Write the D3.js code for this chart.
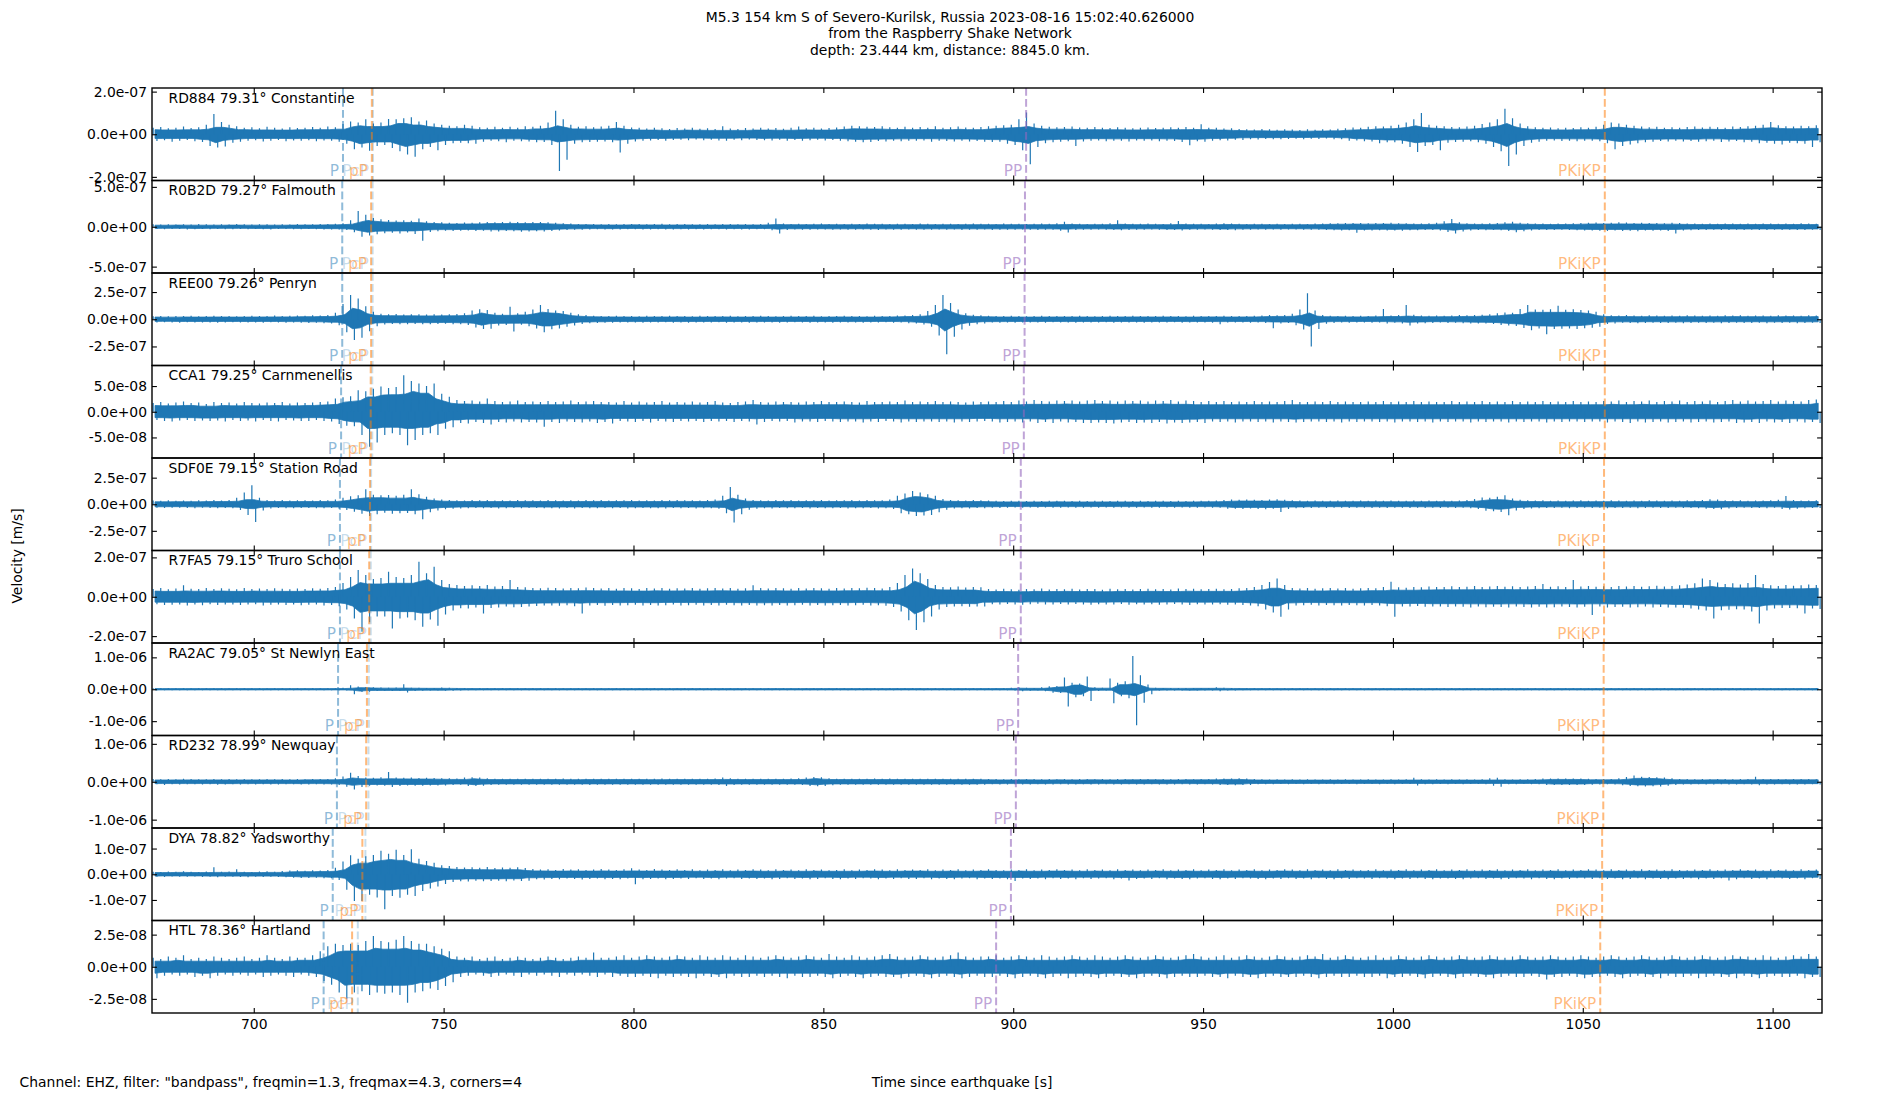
<!DOCTYPE html>
<html>
<head>
<meta charset="utf-8">
<script src="https://cdn.jsdelivr.net/npm/d3@7"></script>
<style>
  body { margin: 0; background: #fff; }
  text { font-family: "DejaVu Sans", sans-serif; }
</style>
</head>
<body>
<svg id="fig" width="1900" height="1100"></svg>
<script>
// stations, top to bottom
const stationCodes = ["RD884", "R0B2D", "REE00", "CCA1", "SDF0E", "R7FA5", "RA2AC", "RD232", "DYA", "HTL"];
const stationDist = ["79.31", "79.27", "79.26", "79.25", "79.15", "79.15", "79.05", "78.99", "78.82", "78.36"];
const stationPlace = ["Constantine", "Falmouth", "Penryn", "Carnmenellis", "Station Road", "Truro School",
    "St Newlyn East", "Newquay", "Yadsworthy", "Hartland"];

// axis limits and tick steps, nm/s
const yLimits = [217, 580, 425, 90, 435, 235, 1450, 1220, 180, 36];
const yTickSteps = [200, 500, 250, 50, 250, 200, 1000, 1000, 100, 25];
const xTicks = [700, 750, 800, 850, 900, 950, 1000, 1050, 1100];

// phase arrivals, seconds after origin
const tP = [723.5, 723.3, 723.3, 723.0, 722.7, 722.7, 722.2, 721.9, 720.8, 718.4];
const tPcP = [731.4, 731.3, 731.3, 731.2, 730.9, 730.8, 730.3, 730.2, 729.4, 727.4];
const tpP = [731.1, 730.9, 730.9, 730.8, 730.6, 730.4, 729.8, 729.6, 728.6, 725.9];
const tPP = [903.4, 903.1, 903.0, 902.8, 902.0, 902.0, 901.3, 900.7, 899.4, 895.5];
const tPKiKP = [1055.8, 1055.8, 1055.8, 1055.8, 1055.6, 1055.6, 1055.5, 1055.4, 1055.1, 1054.6];

// trace envelopes: max / min velocity (nm/s) in 2 s windows centred on windowTimes
const windowTimes = d3.range(674, 1114, 2);

const rd884Hi = [30,34,28,31,36,29,33,45,95,58, 45,38,30,33,28,35,30,27,33,29, 30,34,30,36,33,48,60,55,70,50,
    55,72,70,75,80,60,65,50,45,40, 38,45,40,33,30,35,31,35,30,38, 35,40,55,110,70,45,35,38,33,36,
    40,58,40,32,30,27,30,28,25,29, 27,30,26,28,25,38,27,25,29,27, 30,27,29,26,30,36,28,30,27,29,
    32,36,40,38,35,34,37,33,31,35, 30,34,31,38,30,33,36,32,30,34, 38,40,42,45,70,102,50,40,35,33,
    34,36,32,30,34,31,29,33,30,28, 30,32,29,31,33,30,34,31,47,30, 30,27,28,25,24,22,25,23,21,24,
    22,20,23,21,24,22,26,28,32,30, 35,38,36,40,45,55,70,100,45,40, 38,34,33,36,40,48,55,70,120,75,
    50,38,33,30,32,28,31,29,33,30, 35,45,55,50,45,40,36,33,35,31, 33,30,34,36,32,35,33,31,36,34,
    38,40,45,58,42,38,36,40,38,42];
const rd884Lo = [-32,-28,-35,-30,-27,-33,-36,-55,-62,-58, -40,-35,-31,-28,-34,-30,-27,-33,-29,-31,
    -28,-33,-29,-31,-35,-45,-70,-62,-78,-55, -50,-65,-80,-95,-105,-70,-60,-75,-50,-42,
    -40,-42,-45,-35,-31,-33,-37,-30,-33,-34, -38,-36,-50,-172,-120,-45,-38,-36,-35,-34,
    -38,-86,-45,-34,-31,-29,-27,-30,-27,-26, -28,-25,-28,-26,-29,-30,-26,-28,-25,-27,
    -28,-29,-26,-30,-27,-31,-28,-26,-29,-27, -30,-33,-35,-37,-36,-32,-34,-31,-33,-30,
    -31,-29,-35,-30,-32,-34,-31,-34,-32,-35, -36,-35,-45,-50,-75,-141,-60,-42,-38,-35,
    -33,-55,-34,-31,-29,-33,-30,-31,-34,-29, -31,-29,-33,-30,-32,-36,-52,-33,-35,-31,
    -28,-29,-26,-27,-23,-25,-22,-24,-23,-22, -21,-23,-21,-22,-20,-24,-23,-30,-29,-33,
    -34,-42,-38,-37,-45,-60,-83,-55,-50,-75, -40,-36,-35,-33,-38,-45,-60,-80,-149,-95,
    -55,-40,-35,-31,-29,-32,-30,-33,-30,-31, -33,-42,-70,-55,-48,-42,-38,-35,-32,-34,
    -31,-34,-32,-35,-33,-30,-36,-34,-32,-37, -35,-42,-40,-45,-48,-40,-42,-45,-60,-38];

const r0b2dHi = [30,27,32,29,31,28,33,30,27,31, 29,33,30,28,32,30,27,31,29,33, 30,32,35,33,38,45,80,196,150,110,
    95,84,78,80,75,105,70,60,55,50, 48,52,50,55,60,55,58,62,60,55, 58,60,55,50,45,40,35,33,36,32,
    34,31,35,33,36,32,34,38,31,33, 35,32,30,34,31,33,36,32,34,31, 33,50,105,40,36,38,35,37,40,36,
    38,35,39,36,40,37,38,35,39,37, 36,40,38,35,37,39,36,38,40,37, 38,36,40,37,39,36,38,40,37,45,
    63,40,38,36,39,37,45,80,42,38, 37,40,38,36,45,71,40,37,39,36, 42,45,40,38,36,39,37,36,38,35,
    37,38,36,40,42,45,44,47,48,46, 45,48,46,50,44,45,42,40,45,50, 70,96,55,45,42,40,45,48,55,63,
    50,45,42,40,38,42,40,45,48,50, 52,48,50,55,52,48,50,46,48,45, 50,46,42,40,38,41,39,42,40,38,
    41,39,42,40,38,41,39,43,40,38];
const r0b2dLo = [-28,-31,-29,-27,-33,-30,-29,-32,-28,-30, -31,-28,-32,-29,-30,-33,-29,-28,-31,-30,
    -29,-31,-33,-34,-36,-42,-70,-125,-110,-95, -80,-75,-84,-72,-90,-175,-65,-55,-50,-52,
    -50,-47,-53,-50,-58,-60,-52,-55,-62,-58, -55,-58,-52,-48,-42,-38,-37,-35,-32,-34,
    -33,-35,-32,-31,-34,-36,-31,-33,-35,-32, -34,-31,-33,-30,-32,-35,-31,-34,-33,-30,
    -32,-45,-84,-42,-35,-37,-39,-34,-36,-38, -36,-39,-37,-35,-38,-40,-36,-38,-37,-35,
    -38,-37,-39,-36,-38,-36,-40,-37,-38,-36, -40,-37,-38,-39,-36,-38,-40,-37,-39,-50,
    -71,-42,-37,-39,-36,-38,-40,-45,-40,-37, -39,-36,-38,-40,-42,-48,-38,-39,-36,-38,
    -40,-42,-44,-37,-39,-36,-38,-35,-37,-36, -35,-38,-37,-39,-41,-43,-46,-45,-75,-48,
    -47,-44,-48,-46,-50,-43,-44,-42,-40,-48, -65,-84,-60,-46,-40,-43,-42,-45,-52,-70,
    -55,-46,-40,-42,-41,-39,-42,-44,-46,-48, -50,-52,-47,-53,-50,-55,-48,-50,-47,-52,
    -84,-48,-44,-41,-40,-38,-42,-40,-39,-41, -39,-42,-40,-38,-41,-39,-40,-42,-38,-40];

const ree00Hi = [28,31,27,30,29,33,28,30,32,29, 31,28,30,33,29,31,34,30,32,35, 33,36,35,40,60,140,223,190,120,70,
    50,46,48,44,45,47,43,46,44,45, 48,55,80,92,85,60,50,116,55,70, 90,132,95,80,75,60,45,38,33,31,
    30,33,29,31,28,32,30,29,33,31, 30,28,32,29,31,30,33,28,31,29, 32,30,28,31,33,29,30,32,28,31,
    30,33,29,31,28,32,30,31,34,35, 38,45,75,130,223,150,90,55,42,36, 33,31,29,32,30,28,31,33,29,30,
    31,29,32,30,28,31,33,29,30,32, 30,31,29,32,30,31,28,33,30,31, 30,32,29,31,30,33,35,40,36,38,
    50,90,239,80,40,33,31,32,30,33, 31,34,95,35,40,132,42,35,32,34, 33,35,38,36,40,42,45,55,61,60,
    95,132,90,88,92,125,88,92,85,80, 70,45,36,34,38,35,33,36,34,32, 35,33,36,34,32,35,33,37,34,36,
    33,35,34,32,36,34,35,33,36,34];
const ree00Lo = [-30,-27,-29,-32,-28,-30,-31,-29,-33,-30, -28,-31,-29,-30,-32,-28,-31,-33,-30,-32,
    -34,-33,-37,-38,-55,-120,-190,-170,-110,-65, -48,-44,-46,-47,-43,-45,-46,-44,-42,-47,
    -45,-52,-75,-90,-88,-58,-52,-113,-50,-65, -85,-119,-92,-85,-70,-58,-44,-36,-35,-32,
    -32,-29,-31,-30,-33,-29,-31,-28,-32,-30, -32,-29,-30,-31,-28,-33,-30,-29,-32,-30,
    -31,-29,-32,-30,-28,-31,-33,-29,-30,-32, -29,-31,-30,-33,-29,-31,-28,-32,-30,-36,
    -40,-48,-70,-150,-321,-160,-95,-60,-45,-38, -31,-32,-30,-33,-29,-31,-30,-32,-28,-31,
    -30,-32,-29,-31,-30,-28,-32,-30,-29,-31, -32,-29,-31,-30,-28,-33,-30,-31,-29,-32,
    -46,-30,-31,-29,-32,-30,-34,-83,-38,-35, -55,-95,-251,-90,-42,-34,-30,-33,-31,-29,
    -32,-30,-40,-33,-38,-58,-40,-36,-34,-31, -35,-33,-36,-39,-38,-40,-44,-52,-58,-63,
    -80,-100,-85,-138,-90,-88,-85,-90,-82,-78, -68,-44,-38,-33,-35,-37,-34,-32,-35,-34,
    -33,-36,-34,-32,-35,-33,-36,-34,-32,-35, -34,-32,-36,-33,-35,-32,-37,-34,-33,-35];

const cca1Hi = [17,19,16,18,20,17,18,15,19,17, 18,16,19,17,16,18,17,19,16,18, 17,18,19,20,26,28,30,42,40,45,
    49,46,48,71,60,55,50,55,35,29, 23,21,22,20,26,21,19,20,22,19, 20,19,21,19,20,22,19,20,21,19,
    19,18,21,18,20,18,19,21,18,19, 18,20,18,19,21,18,17,19,20,23, 19,18,20,19,19,18,20,19,21,19,
    19,20,19,18,21,19,19,20,19,22, 19,20,19,21,19,20,19,18,20,19, 20,19,21,19,22,20,23,21,20,22,
    21,22,20,22,23,21,22,20,22,21, 22,20,22,21,23,20,22,21,19,21, 19,21,19,20,19,21,19,20,19,21,
    23,19,19,20,19,21,19,20,19,19, 20,19,21,19,20,19,21,19,20,19, 19,21,19,20,19,21,19,20,19,21,
    19,20,19,21,19,20,19,21,19,20, 19,21,20,22,19,21,20,22,19,21, 20,22,19,21,20,22,19,21,23,20,
    22,20,21,23,20,22,21,20,23,24];
const cca1Lo = [-16,-18,-19,-17,-16,-18,-17,-18,-17,-19, -16,-18,-17,-19,-16,-18,-19,-16,-17,-18,
    -18,-16,-18,-19,-24,-27,-28,-45,-68,-60, -45,-42,-45,-65,-55,-45,-42,-45,-33,-30,
    -22,-23,-20,-22,-25,-20,-21,-19,-21,-20, -21,-29,-20,-22,-19,-20,-21,-19,-22,-20,
    -23,-18,-19,-20,-18,-21,-18,-19,-20,-18, -19,-18,-20,-18,-19,-18,-20,-18,-19,-25,
    -20,-18,-19,-18,-21,-19,-19,-20,-18,-19, -20,-19,-19,-21,-19,-20,-18,-19,-21,-19,
    -20,-19,-19,-20,-19,-21,-19,-20,-19,-18, -19,-21,-20,-19,-21,-19,-22,-20,-22,-19,
    -21,-20,-22,-22,-21,-22,-23,-21,-20,-22, -21,-22,-20,-23,-21,-22,-21,-20,-22,-19,
    -20,-19,-21,-19,-19,-20,-19,-21,-19,-20, -21,-20,-19,-19,-20,-19,-21,-19,-20,-19,
    -19,-20,-19,-21,-19,-19,-20,-19,-21,-19, -20,-19,-19,-21,-19,-20,-19,-19,-21,-19,
    -20,-19,-19,-21,-19,-20,-19,-19,-20,-19, -19,-21,-19,-20,-22,-19,-21,-20,-19,-21,
    -20,-19,-21,-20,-19,-21,-20,-19,-22,-21, -20,-22,-19,-21,-20,-22,-19,-21,-20,-22];

const sdf0eHi = [35,32,37,34,36,33,38,35,40,36, 40,60,110,179,60,40,36,39,35,37, 38,36,40,37,45,60,75,85,141,90,
    85,88,80,90,141,95,70,55,45,40, 38,36,39,37,40,35,38,36,39,37, 38,36,40,37,35,38,36,39,37,40,
    36,38,37,39,35,38,36,40,37,39, 37,38,36,40,45,80,163,90,55,40, 38,36,39,37,40,36,38,37,39,36,
    38,37,39,36,40,37,38,45,80,100, 125,110,95,80,50,40,38,36,39,37, 35,33,31,34,32,30,33,31,34,32,
    33,31,34,30,33,32,31,34,32,30, 33,31,34,32,30,33,31,34,32,33, 35,40,44,42,45,43,41,44,46,42,
    38,35,33,36,34,32,35,33,34,36, 34,35,33,36,34,32,35,33,36,34, 35,33,36,40,50,63,60,70,85,55,
    42,38,35,37,34,36,33,35,37,34, 36,34,37,35,33,36,34,37,35,33, 36,34,37,35,40,47,44,38,35,37,
    34,36,35,37,42,78,40,36,35,37];
const sdf0eLo = [-33,-36,-34,-32,-35,-37,-34,-36,-38,-35, -38,-55,-100,-166,-58,-40,-35,-37,-38,-36,
    -35,-37,-38,-36,-42,-55,-70,-90,-110,-95, -80,-90,-85,-82,-95,-141,-75,-58,-48,-42,
    -40,-37,-35,-38,-36,-39,-37,-35,-38,-36, -36,-38,-37,-39,-36,-40,-35,-37,-38,-36,
    -38,-35,-39,-37,-36,-38,-37,-39,-35,-38, -36,-39,-37,-38,-42,-85,-172,-95,-52,-42,
    -37,-39,-36,-38,-37,-35,-39,-36,-38,-37, -36,-39,-37,-38,-36,-39,-37,-44,-85,-95,
    -110,-105,-100,-75,-52,-41,-37,-39,-36,-38, -33,-35,-32,-30,-33,-31,-34,-30,-32,-33,
    -31,-34,-32,-31,-33,-30,-32,-31,-34,-32, -31,-33,-32,-30,-33,-31,-32,-34,-31,-33,
    -34,-42,-43,-45,-41,-44,-46,-42,-72,-44, -37,-36,-35,-33,-35,-34,-32,-35,-33,-34,
    -36,-33,-35,-34,-32,-35,-33,-36,-34,-35, -33,-36,-34,-38,-45,-60,-65,-72,-103,-58,
    -44,-40,-37,-35,-36,-34,-37,-35,-33,-36, -34,-37,-35,-36,-34,-37,-35,-33,-36,-35,
    -34,-36,-35,-37,-42,-45,-47,-40,-36,-34, -36,-35,-37,-34,-45,-50,-42,-38,-36,-35];

const r7fa5Hi = [40,45,38,42,59,41,39,44,40,43, 41,38,44,40,42,39,43,41,38,42, 40,43,41,45,50,70,100,136,110,90,
    95,127,100,95,110,178,120,152,85,65, 60,55,58,55,60,52,55,85,50,48, 45,43,46,44,42,45,43,47,44,42,
    44,41,45,43,40,44,42,45,41,43, 42,44,41,43,45,42,44,41,43,59, 44,42,45,43,41,44,42,45,43,41,
    44,42,45,43,46,44,42,50,70,110, 144,120,90,60,50,48,52,47,50,48, 40,37,41,38,36,40,38,42,37,39,
    38,41,37,40,39,36,41,38,40,37, 39,41,38,40,37,42,39,41,38,40, 41,38,40,43,45,50,60,75,93,60,
    45,42,44,41,43,45,42,44,41,43, 45,43,50,76,48,46,50,48,52,49, 50,53,49,51,54,50,52,55,51,53,
    50,52,54,65,51,53,50,85,52,55, 51,53,50,54,52,55,51,53,56,52, 55,58,62,68,93,85,72,65,68,62,
    70,110,65,58,55,60,56,58,62,60];
const r7fa5Lo = [-38,-42,-41,-39,-44,-40,-43,-38,-42,-40, -39,-42,-40,-38,-44,-41,-39,-42,-40,-43,
    -41,-39,-44,-42,-48,-65,-110,-178,-130,-100, -100,-161,-110,-105,-120,-152,-115,-147,-90,-70,
    -58,-60,-55,-85,-57,-55,-50,-53,-52,-50, -47,-45,-44,-46,-43,-48,-85,-45,-42,-46,
    -42,-45,-43,-41,-44,-42,-45,-43,-40,-44, -43,-41,-44,-42,-45,-41,-43,-44,-42,-45,
    -43,-45,-42,-44,-43,-41,-44,-42,-45,-43, -42,-44,-43,-41,-45,-43,-46,-52,-75,-120,
    -169,-130,-100,-65,-52,-50,-48,-51,-49,-50, -38,-40,-37,-39,-41,-38,-36,-40,-39,-37,
    -40,-37,-39,-41,-38,-40,-39,-37,-41,-38, -40,-38,-41,-39,-37,-40,-42,-38,-40,-39,
    -38,-41,-39,-42,-44,-48,-65,-80,-102,-65, -44,-43,-41,-44,-42,-43,-45,-42,-43,-44,
    -42,-45,-48,-102,-50,-49,-47,-51,-49,-50, -52,-49,-51,-54,-50,-53,-51,-52,-55,-50,
    -52,-54,-51,-55,-53,-50,-52,-55,-51,-93, -50,-54,-52,-51,-55,-53,-50,-54,-52,-55,
    -54,-56,-60,-65,-70,-110,-68,-66,-64,-65, -75,-136,-70,-60,-57,-57,-58,-85,-60,-62];

const ra2acHi = [31,29,32,30,28,31,30,29,32,30, 29,31,30,32,28,31,29,30,31,29, 30,31,29,32,30,45,125,84,70,60,
    52,48,55,157,50,45,42,40,52,45, 38,34,33,31,32,30,33,31,30,32, 31,30,32,29,31,30,33,31,29,32,
    30,31,29,32,30,31,33,29,31,30, 32,30,31,29,32,30,31,33,30,29, 31,32,30,31,29,32,30,31,33,30,
    30,31,29,32,30,31,29,32,30,31, 32,30,31,29,33,30,31,32,30,31, 30,32,35,45,63,45,40,60,95,104,
    366,200,180,397,60,45,334,200,250,1045, 440,150,45,40,42,38,40,42,39,41, 63,45,38,34,33,31,32,30,31,29,
    31,30,32,29,31,30,32,29,31,30, 29,31,30,32,30,31,29,30,32,31, 30,29,31,30,32,29,31,30,29,31,
    32,30,29,31,30,32,29,31,30,29, 31,30,32,29,31,30,32,29,31,30, 29,31,30,32,29,31,30,32,30,31,
    30,32,29,31,30,29,31,30,32,31];
const ra2acLo = [-30,-32,-29,-31,-30,-29,-32,-28,-31,-30, -31,-29,-30,-31,-29,-32,-30,-28,-31,-30,
    -29,-31,-30,-32,-29,-40,-157,-90,-80,-55, -50,-52,-50,-105,-52,-48,-40,-42,-48,-50,
    -36,-35,-32,-33,-31,-32,-30,-31,-33,-30, -32,-30,-31,-30,-33,-29,-31,-30,-32,-31,
    -30,-32,-31,-29,-30,-31,-32,-30,-29,-31, -30,-31,-29,-32,-31,-30,-32,-30,-31,-29,
    -32,-30,-31,-29,-30,-32,-31,-30,-32,-29, -31,-30,-32,-31,-29,-30,-31,-32,-30,-29,
    -31,-30,-32,-29,-31,-32,-30,-31,-29,-32, -30,-31,-33,-40,-63,-48,-42,-65,-110,-120,
    -543,-250,-220,-366,-55,-42,-439,-220,-280,-1129, -420,-160,-42,-40,-38,-41,-39,-40,-42,-38,
    -60,-42,-36,-35,-32,-33,-30,-31,-32,-30, -31,-29,-32,-30,-31,-32,-30,-31,-29,-30,
    -31,-30,-32,-29,-30,-31,-30,-32,-31,-29, -30,-31,-29,-32,-30,-29,-31,-30,-32,-30,
    -31,-29,-30,-31,-32,-30,-29,-31,-30,-32, -30,-31,-29,-30,-32,-31,-30,-29,-31,-30,
    -31,-30,-32,-31,-29,-30,-31,-32,-30,-29, -31,-30,-29,-32,-30,-31,-29,-30,-31,-30];

const rd232Hi = [70,65,72,68,80,71,67,69,73,68, 71,66,74,69,67,72,68,70,65,72, 69,73,70,72,90,140,237,150,110,105,
    120,255,110,105,112,100,108,98,95,90, 85,114,120,110,90,80,78,82,79,81, 79,82,78,80,83,77,81,79,82,78,
    80,79,82,78,81,80,77,83,79,81, 78,82,80,79,85,114,90,80,78,81, 79,82,80,78,83,90,115,123,118,95,
    82,80,78,81,79,83,80,85,79,81, 80,78,82,79,81,80,77,79,81,78, 70,72,68,71,69,73,70,68,72,69,
    71,68,70,72,69,71,67,70,73,69, 70,72,69,71,68,70,73,69,71,70, 85,88,86,90,84,70,65,62,64,61,
    63,60,64,62,61,63,60,64,62,61, 63,60,62,64,61,63,105,65,62,64, 61,63,62,64,60,63,95,105,65,62,
    64,66,70,88,85,88,86,84,88,80, 70,72,74,95,123,167,130,125,120,110, 90,72,70,68,71,69,72,70,68,71,
    75,132,72,70,73,69,71,70,72,69];
const rd232Lo = [-68,-85,-66,-70,-67,-69,-73,-66,-80,-71, -69,-72,-68,-71,-66,-70,-74,-67,-69,-72,
    -70,-68,-72,-75,-85,-130,-202,-140,-105,-100, -105,-140,-115,-100,-108,-105,-102,-100,-98,-88,
    -82,-110,-114,-108,-88,-82,-80,-79,-81,-78, -80,-78,-81,-79,-82,-80,-78,-83,-80,-79,
    -81,-78,-80,-82,-79,-80,-81,-78,-80,-82, -80,-79,-81,-78,-83,-110,-88,-82,-79,-80,
    -81,-78,-80,-82,-79,-88,-112,-120,-115,-92, -80,-82,-79,-80,-81,-78,-80,-82,-81,-79,
    -80,-82,-79,-81,-80,-78,-80,-82,-79,-80, -69,-71,-70,-68,-72,-70,-69,-71,-70,-68,
    -70,-72,-69,-71,-70,-68,-71,-70,-69,-72, -70,-69,-71,-70,-72,-68,-71,-70,-69,-72,
    -88,-86,-90,-85,-87,-68,-63,-64,-61,-63, -62,-64,-61,-63,-60,-64,-62,-61,-63,-60,
    -62,-64,-61,-63,-60,-62,-100,-63,-64,-61, -63,-61,-64,-62,-61,-63,-105,-132,-63,-64,
    -62,-65,-68,-85,-88,-86,-84,-88,-85,-82, -70,-68,-75,-92,-115,-120,-123,-118,-122,-105,
    -88,-70,-72,-69,-70,-72,-68,-71,-70,-69, -73,-90,-70,-72,-69,-71,-70,-73,-69,-71];

const dyaHi = [10,9,11,10,12,10,9,11,27,10, 11,19,10,9,11,12,10,13,15,16, 14,16,15,17,25,50,74,60,70,75,
    91,80,95,75,97,60,52,45,35,32, 28,26,27,25,28,24,26,25,27,24, 20,18,19,17,20,18,19,17,18,20,
    18,17,19,23,18,17,20,18,17,19, 17,19,16,18,17,19,16,18,17,19, 18,16,19,17,18,16,19,17,18,16,
    17,19,16,18,17,19,18,16,19,17, 18,17,19,16,18,17,19,16,18,17, 19,17,16,18,17,19,16,18,17,19,
    17,18,16,19,17,18,16,19,17,18, 16,18,17,19,16,18,17,19,16,18, 17,19,16,18,17,19,16,18,17,19,
    18,16,19,17,18,16,19,17,18,16, 17,19,16,18,17,19,16,18,17,19, 16,18,17,19,16,18,17,19,16,18,
    17,19,16,18,17,19,16,18,17,19, 18,16,19,17,18,16,19,17,18,16, 19,17,16,18,17,19,16,18,17,19,
    17,18,16,19,17,18,16,19,17,18];
const dyaLo = [-10,-11,-9,-10,-10,-9,-11,-10,-12,-10, -10,-11,-12,-10,-11,-10,-11,-12,-14,-15,
    -15,-14,-16,-16,-22,-60,-104,-104,-80,-90, -136,-85,-91,-80,-85,-65,-55,-48,-38,-30,
    -27,-28,-25,-27,-26,-25,-27,-24,-26,-25, -19,-20,-18,-19,-17,-18,-20,-18,-17,-19,
    -18,-19,-17,-39,-19,-18,-17,-19,-18,-17, -18,-16,-18,-17,-19,-17,-16,-18,-17,-18,
    -17,-19,-18,-16,-18,-17,-19,-18,-16,-18, -19,-17,-18,-16,-17,-19,-17,-18,-16,-18,
    -18,-16,-19,-17,-18,-19,-17,-16,-19,-17, -18,-17,-19,-26,-17,-18,-17,-19,-16,-18,
    -17,-19,-16,-18,-17,-16,-19,-17,-24,-18, -17,-18,-16,-19,-17,-18,-19,-17,-16,-18,
    -19,-17,-18,-16,-17,-18,-19,-17,-18,-16, -18,-17,-19,-16,-18,-19,-17,-18,-16,-17,
    -18,-16,-17,-19,-17,-18,-16,-18,-19,-17, -17,-18,-19,-17,-16,-18,-17,-19,-18,-16,
    -17,-19,-16,-18,-19,-17,-18,-16,-17,-18, -16,-18,-17,-19,-18,-16,-19,-17,-18,-19,
    -17,-18,-16,-19,-17,-18,-16,-24,-19,-16, -18,-17,-19,-16,-17,-18,-17,-19,-16,-18];

const htlHi = [7,6,8,7,9,6,7,6,8,7, 6,7,8,6,7,9,7,6,8,7, 7,9,12,16,18,17,18,17,20,24,
    20,19,21,24,20,18,18,16,14,12, 8,7,8,6,7,8,6,7,8,7, 6,7,8,7,6,7,8,7,11,7,
    7,8,9,7,8,9,8,7,8,9, 8,7,9,8,7,9,8,7,9,8, 7,8,9,8,7,8,9,8,7,10,
    8,7,9,8,7,8,9,10,8,7, 8,9,8,7,8,9,11,8,7,8, 8,9,7,8,9,8,7,9,8,7,
    8,9,8,7,9,8,7,8,9,8, 7,8,9,8,7,8,9,10,8,7, 8,9,7,8,9,8,7,8,9,8,
    7,8,9,8,10,7,8,9,8,7, 8,9,7,8,9,8,7,8,9,8, 7,8,9,8,7,8,9,8,7,8,
    9,8,7,8,9,8,7,8,9,8, 7,8,9,8,7,8,9,8,7,8, 9,8,7,8,9,8,7,8,9,8,
    8,7,9,8,7,8,9,8,10,8];
const htlLo = [-9,-7,-6,-7,-6,-8,-7,-9,-7,-6, -7,-6,-7,-6,-8,-7,-6,-7,-8,-6,
    -7,-8,-11,-14,-20,-25,-20,-19,-22,-20, -21,-20,-22,-28,-20,-19,-17,-18,-15,-12,
    -8,-7,-6,-7,-8,-7,-6,-7,-8,-6, -7,-6,-7,-8,-6,-7,-6,-7,-8,-6,
    -8,-7,-8,-8,-7,-8,-9,-7,-8,-7, -8,-9,-7,-8,-8,-9,-7,-8,-8,-7,
    -8,-7,-8,-9,-7,-8,-8,-7,-8,-9, -8,-7,-8,-9,-8,-7,-8,-8,-9,-8,
    -7,-8,-9,-8,-7,-8,-9,-8,-7,-8, -8,-7,-8,-9,-8,-7,-8,-9,-8,-7,
    -9,-8,-7,-8,-9,-8,-7,-8,-8,-9, -8,-7,-8,-9,-8,-7,-8,-8,-7,-8,
    -8,-9,-7,-8,-8,-9,-8,-7,-8,-8, -8,-7,-8,-9,-8,-7,-8,-8,-7,-8,
    -8,-7,-9,-8,-8,-7,-8,-9,-8,-7, -8,-9,-8,-7,-8,-8,-9,-8,-7,-8,
    -8,-7,-8,-10,-8,-8,-7,-8,-9,-8, -8,-7,-8,-9,-8,-7,-8,-8,-9,-7,
    -8,-8,-7,-9,-8,-7,-8,-8,-9,-7, -8,-9,-8,-7,-8,-8,-7,-9,-8,-8];

const traceHi = [rd884Hi, r0b2dHi, ree00Hi, cca1Hi, sdf0eHi, r7fa5Hi, ra2acHi, rd232Hi, dyaHi, htlHi];
const traceLo = [rd884Lo, r0b2dLo, ree00Lo, cca1Lo, sdf0eLo, r7fa5Lo, ra2acLo, rd232Lo, dyaLo, htlLo];

const titleLines = [
    "M5.3 154 km S of Severo-Kurilsk, Russia 2023-08-16 15:02:40.626000",
    "from the Raspberry Shake Network",
    "depth: 23.444 km, distance: 8845.0 km."
];

// ---- layout
const W = 1900, H = 1100;
const axLeft = 152, axRight = 1822, axTop = 88, axBottom = 1013;
const nPanels = stationCodes.length;
const panelH = (axBottom - axTop) / nPanels;
const traceColor = "#1f77b4";
// the dense, solid part of a trace sits below the window peaks
const bandFraction = 0.72;

const phases = [
    { name: "P", times: tP, color: "#1f77b4", op: 0.5 },
    { name: "PcP", times: tPcP, color: "#1f77b4", op: 0.25 },
    { name: "pP", times: tpP, color: "#ff7f0e", op: 0.55 },
    { name: "PP", times: tPP, color: "#9467bd", op: 0.6 },
    { name: "PKiKP", times: tPKiKP, color: "#ff7f0e", op: 0.55 }
];

function sciLabel(nm) {
    const v = nm * 1e-9;
    const s = v.toExponential(1);
    const parts = s.split("e");
    const sign = parts[1][0] === "-" ? "-" : "+";
    const digits = parts[1].replace("+", "").replace("-", "").padStart(2, "0");
    return parts[0] + "e" + sign + digits;
}

const svg = d3.select("#fig");
svg.append("rect").attr("width", W).attr("height", H).attr("fill", "#fff");

const x = d3.scaleLinear().domain([673.2, 1113.0]).range([axLeft, axRight]);

// title
svg.selectAll(".title")
    .data(titleLines)
    .enter()
    .append("text")
    .attr("class", "title")
    .attr("x", W / 2)
    .attr("y", (d, i) => 21.7 + i * 16.4)
    .attr("text-anchor", "middle")
    .style("font-size", "13.9px")
    .text(d => d);

stationCodes.forEach((code, i) => {
    const g = svg.append("g").attr("transform", `translate(0, ${axTop + i * panelH})`);
    const y = d3.scaleLinear().domain([-yLimits[i], yLimits[i]]).range([panelH, 0]);

    const clipId = "clip" + i;
    g.append("clipPath").attr("id", clipId)
        .append("rect").attr("x", axLeft).attr("y", 0).attr("width", axRight - axLeft).attr("height", panelH);

    const hi = traceHi[i], lo = traceLo[i];
    const n = Math.min(hi.length, lo.length, windowTimes.length);
    const idx = d3.range(n);

    // solid band under the spikes
    const bandHi = idx.map(j => bandFraction * d3.min([hi[Math.max(j - 1, 0)], hi[j], hi[Math.min(j + 1, n - 1)]]));
    const bandLo = idx.map(j => bandFraction * d3.max([lo[Math.max(j - 1, 0)], lo[j], lo[Math.min(j + 1, n - 1)]]));

    const area = d3.area()
        .x(j => x(windowTimes[j]))
        .y0(j => y(bandLo[j]))
        .y1(j => y(bandHi[j]));

    const trace = g.append("g").attr("clip-path", `url(#${clipId})`);

    trace.append("path")
        .datum(idx)
        .attr("d", area)
        .style("fill", traceColor)
        .style("stroke", traceColor)
        .style("stroke-width", 0.8);

    // window maximum drawn in the first half of its window, minimum in the second half
    const y0 = y(0);
    trace.append("path")
        .attr("d", idx.map(j =>
            `M${x(windowTimes[j] - 0.5).toFixed(2)},${y0.toFixed(2)}V${y(hi[j]).toFixed(2)}` +
            `M${x(windowTimes[j] + 0.5).toFixed(2)},${y0.toFixed(2)}V${y(lo[j]).toFixed(2)}`).join(""))
        .style("fill", "none")
        .style("stroke", traceColor)
        .style("stroke-width", 1.2);

    // phase markers
    phases.forEach(p => {
        const px = x(p.times[i]);
        g.append("line")
            .attr("x1", px).attr("x2", px)
            .attr("y1", 0).attr("y2", panelH)
            .style("stroke", p.color)
            .style("stroke-opacity", p.op)
            .style("stroke-width", 2)
            .style("stroke-dasharray", "7.7,3.3");
    });
    phases.forEach(p => {
        g.append("text")
            .attr("x", x(p.times[i]) - 4)
            .attr("y", panelH - 4.5)
            .attr("text-anchor", "end")
            .style("font-size", "15.3px")
            .style("fill", p.color)
            .style("fill-opacity", p.op)
            .text(p.name);
    });

    // axes, ticks pointing inward
    const yt = [-yTickSteps[i], 0, yTickSteps[i]];
    const yAxisL = g.append("g").attr("transform", `translate(${axLeft},0)`)
        .call(d3.axisLeft(y).tickValues(yt).tickSize(-4.9).tickPadding(5).tickFormat(sciLabel));
    const yAxisR = g.append("g").attr("transform", `translate(${axRight},0)`)
        .call(d3.axisRight(y).tickValues(yt).tickSize(-4.9).tickFormat(""));
    const xAxisT = g.append("g").attr("transform", "translate(0,0)")
        .call(d3.axisTop(x).tickValues(xTicks).tickSize(-4.9).tickFormat(""));
    const xAxisB = g.append("g").attr("transform", `translate(0,${panelH})`)
        .call(d3.axisBottom(x).tickValues(xTicks).tickSize(-4.9).tickPadding(6)
            .tickFormat(i === nPanels - 1 ? d => d : ""));

    [yAxisL, yAxisR, xAxisT, xAxisB].forEach(a => {
        a.select(".domain").remove();
        a.selectAll("line").style("stroke", "#000").style("stroke-width", 1.1);
        a.selectAll("text")
            .style("font-family", '"DejaVu Sans", sans-serif')
            .style("font-size", "13.9px")
            .style("fill", "#000");
    });

    g.append("rect")
        .attr("x", axLeft).attr("y", 0)
        .attr("width", axRight - axLeft).attr("height", panelH)
        .style("fill", "none")
        .style("stroke", "#000")
        .style("stroke-width", 1.4);

    g.append("text")
        .attr("x", axLeft + 16.5)
        .attr("y", 14.5)
        .style("font-size", "13.9px")
        .text(`${code} ${stationDist[i]}° ${stationPlace[i]}`);
});

// axis labels and footer
svg.append("text")
    .attr("transform", "translate(17,556) rotate(-90)")
    .attr("text-anchor", "middle")
    .attr("dominant-baseline", "central")
    .style("font-size", "13.9px")
    .text("Velocity [m/s]");

svg.append("text")
    .attr("x", 962)
    .attr("y", 1087)
    .attr("text-anchor", "middle")
    .style("font-size", "13.9px")
    .text("Time since earthquake [s]");

svg.append("text")
    .attr("x", 19.6)
    .attr("y", 1087)
    .style("font-size", "13.9px")
    .text('Channel: EHZ, filter: "bandpass", freqmin=1.3, freqmax=4.3, corners=4');
</script>
</body>
</html>
